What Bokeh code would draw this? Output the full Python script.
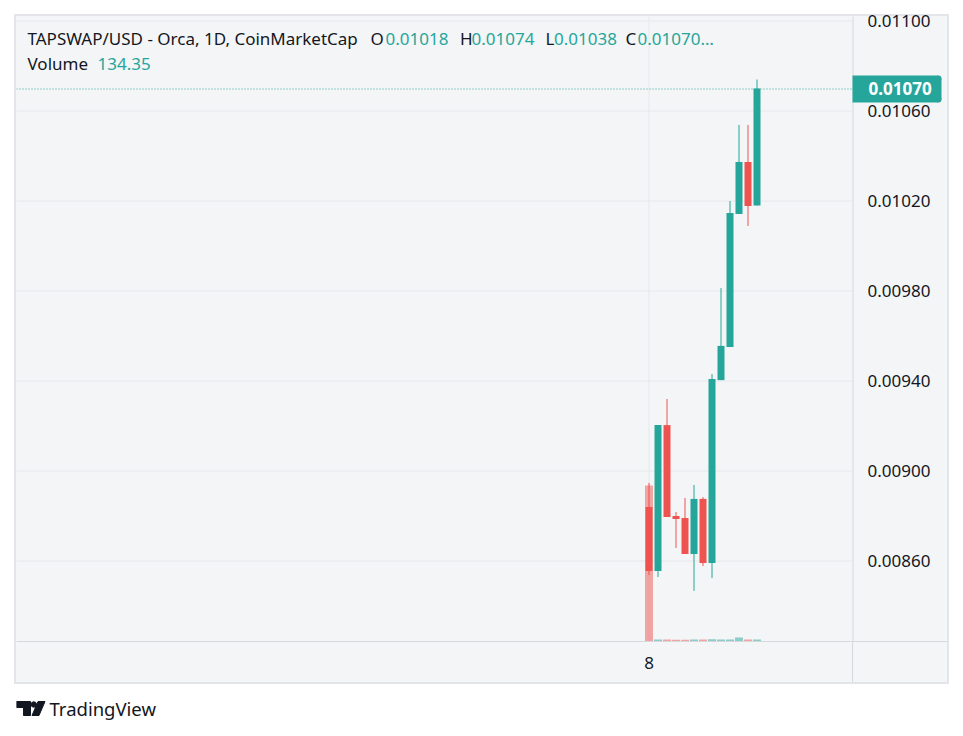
from bokeh.plotting import figure
from bokeh.models import Range1d, FixedTicker
from bokeh.layouts import column
from bokeh.embed import file_html
from bokeh.resources import INLINE
from bokeh.core.properties import value

# ---------------- data ----------------
days = [8, 9, 10, 11, 12, 13, 14, 15, 16, 17, 18, 19, 20]
opens = [0.008840, 0.008556, 0.009204, 0.008800, 0.008791, 0.008631, 0.008876,
         0.008591, 0.009404, 0.009551, 0.010142, 0.010373, 0.010180]
highs = [0.008947, 0.009204, 0.009320, 0.008818, 0.008880, 0.008938, 0.008884,
         0.009431, 0.009813, 0.010200, 0.010538, 0.010538, 0.010740]
lows = [0.008538, 0.008529, 0.008796, 0.008658, 0.008631, 0.008467, 0.008578,
        0.008524, 0.009404, 0.009551, 0.010142, 0.010089, 0.010180]
closes = [0.008556, 0.009204, 0.008796, 0.008787, 0.008631, 0.008876, 0.008591,
          0.009409, 0.009556, 0.010147, 0.010373, 0.010178, 0.010700]
volumes = [10450, 128, 141, 119, 122, 136, 127, 145, 131, 139, 270, 142, 134.35]

price_ticks = [0.0086, 0.0090, 0.0094, 0.0098, 0.0102, 0.0106, 0.0110]
price_tick_labels = ["0.00860", "0.00900", "0.00940", "0.00980", "0.01020", "0.01060", "0.01100"]
time_ticks = [8]
time_tick_labels = {8: "8"}
last_price = 0.0107
last_price_text = "0.01070"

header_title = "TAPSWAP/USD - Orca, 1D, CoinMarketCap"
header_keys = ["O", "H", "L", "C"]
header_values = ["0.01018", "0.01074", "0.01038", "0.01070\u2026"]
volume_name = "Volume"
volume_value = "134.35"

# ---------------- style ----------------
UP = "#26A69A"
DOWN = "#EF5350"
TXT = "#131722"
BG = "#F4F5F7"
SEP = "#D6D8DE"
GRID = "#E6E8EC"
BORDER = "#E3E5EA"
FONT = "Noto Sans"
PPD = 9.0          # pixels per day
PPU = 225000.0     # pixels per price unit

# window pixel -> data helpers (used only for placing layout elements)
def X(px):
    return 8 + (px - 648.5) / PPD

def Y(py):
    return 0.0106 + (110.5 - py) / PPU

colors = [UP if c >= o else DOWN for o, c in zip(opens, closes)]
body_top = [max(o, c) for o, c in zip(opens, closes)]
body_bot = [min(o, c) for o, c in zip(opens, closes)]

p = figure(width=949, height=684,
           x_range=Range1d(X(16), X(947)), y_range=Range1d(Y(641), Y(0)),
           y_axis_location=None, output_backend="svg", toolbar_location=None,
           min_border_left=16, min_border_top=0, min_border_right=2, min_border_bottom=43,
           background_fill_alpha=0, border_fill_alpha=0)
p.outline_line_color = None
p.xgrid.visible = False
p.ygrid.visible = False

def g(c):
    return f"linear-gradient({c},{c})"

layers = [
    (SEP, "852px 641px", "1px 41px"),
    (BORDER, "14px 14px", "935px 2px"),
    (BORDER, "14px 682px", "935px 2px"),
    (BORDER, "14px 14px", "2px 670px"),
    (BORDER, "947px 14px", "2px 670px"),
    (BG, "16px 16px", "931px 666px"),
]
p.styles = {
    "background-image": ", ".join(g(c) for c, _, _ in layers),
    "background-position": ", ".join(pos for _, pos, _ in layers),
    "background-size": ", ".join(s for _, _, s in layers),
    "background-repeat": "no-repeat",
}

p.extra_y_ranges = {"vol": Range1d(0, 10450 * 641 / 156)}

# time axis
xa = p.xaxis[0]
xa.ticker = FixedTicker(ticks=time_ticks)
xa.major_label_overrides = time_tick_labels
xa.major_tick_line_color = None
xa.minor_tick_line_color = None
xa.major_tick_out = 0
xa.major_tick_in = 0
xa.minor_tick_out = 0
xa.minor_tick_in = 0
xa.axis_line_color = SEP
xa.major_label_text_font = FONT
xa.major_label_text_font_size = "17px"
xa.major_label_text_color = TXT
xa.major_label_standoff = 15

# grid lines
n = len(price_ticks)
p.segment(x0=[X(16)] * n, x1=[X(852)] * n, y0=price_ticks, y1=price_ticks,
          line_color=GRID, line_width=1)
p.segment(x0=time_ticks, x1=time_ticks, y0=[Y(16)] * len(time_ticks),
          y1=[Y(641)] * len(time_ticks), line_color=GRID, line_width=1)

# price scale separator + labels
p.segment(x0=[X(852.5)], x1=[X(852.5)], y0=[Y(16)], y1=[Y(641)], line_color=SEP, line_width=1)
p.text(x=[X(867)] * n, y=price_ticks, text=price_tick_labels,
       text_font=value(FONT), text_font_size="17px", text_color=TXT,
       text_baseline="middle", text_align="left")

# volume
p.vbar(x=days, top=volumes, bottom=0, width=8 / 9, y_range_name="vol",
       fill_color=colors, fill_alpha=0.5, line_color=None)

# candles
p.segment(x0=days, y0=lows, x1=days, y1=highs, line_color=colors, line_width=1)
p.vbar(x=days, top=body_top, bottom=body_bot, width=7 / 9,
       fill_color=colors, line_color=None)

# last price line + label
p.segment(x0=[X(16)], x1=[X(852)], y0=[last_price - 0.5 / PPU], y1=[last_price - 0.5 / PPU],
          line_color=UP, line_dash="1 2", line_width=1)
p.quad(left=[X(852)], right=[X(938)], top=[last_price + 13 / PPU],
       bottom=[last_price - 14 / PPU], fill_color=UP, line_color=None)
p.quad(left=[X(936)], right=[X(941)], top=[last_price + 10 / PPU],
       bottom=[last_price - 11 / PPU], fill_color=UP, line_color=None)
p.ellipse(x=[X(938), X(938)], y=[last_price + 10 / PPU, last_price - 11 / PPU],
          width=6 / PPD, height=6 / PPU, fill_color=UP, line_color=None)
p.text(x=[X(868)], y=[last_price], text=[last_price_text], text_font=value(FONT),
       text_font_size="17px", text_font_style="bold", text_color="white",
       text_baseline="middle", text_align="left")

# header legend
def hdr(px, py, text, color):
    p.text(x=[X(px)], y=[Y(py)], text=[text], text_font=value(FONT),
           text_font_size="17px", text_color=color,
           text_baseline="middle", text_align="left")

hdr(27, 38, header_title, TXT)
key_x = [370, 459.5, 545, 625]
val_x = [385, 471, 553.5, 637]
for k, v, kx, vx in zip(header_keys, header_values, key_x, val_x):
    hdr(kx, 38, k, TXT)
    hdr(vx, 38, v, UP)
hdr(27, 63, volume_name, TXT)
hdr(97, 63, volume_value, UP)

# ---------------- logo ----------------
logo = figure(width=949, height=52, x_range=Range1d(16, 947), y_range=Range1d(52, 0),
              x_axis_type=None, y_axis_type=None, output_backend="svg",
              toolbar_location=None, min_border_left=16, min_border_right=2,
              min_border_top=0, min_border_bottom=0,
              background_fill_color="white", border_fill_color="white")
logo.outline_line_color = None
logo.grid.visible = False
logo.patch(x=[16, 30, 30, 23, 23, 16], y=[17, 17, 31, 31, 23, 23], color=TXT)
logo.circle(x=[33.3], y=[20], radius=2.7, color=TXT)
logo.patch(x=[37.5, 44.5, 38.5, 31.5], y=[17, 17, 31, 31], color=TXT)
logo.text(x=[49], y=[24], text=["TradingView"], text_font=value(FONT),
          text_font_size="18.5px", text_baseline="middle", text_color=TXT)

layout = column(p, logo)

open("out.html", "w").write(file_html(layout, INLINE))
